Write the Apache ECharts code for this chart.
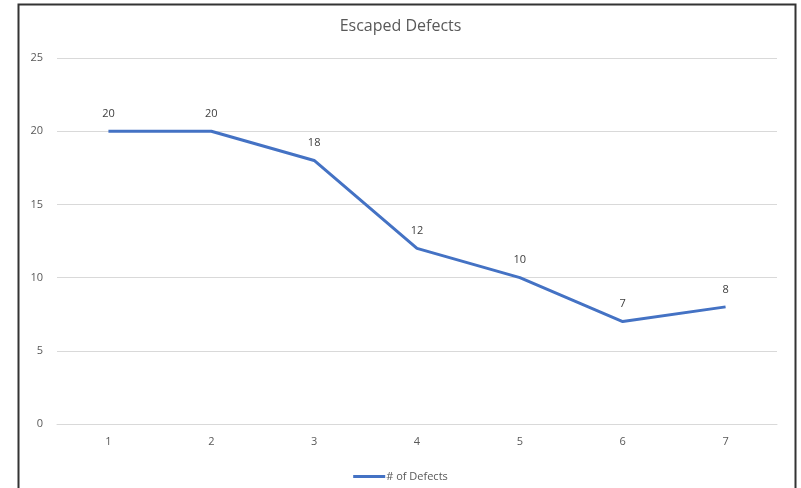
<!DOCTYPE html>
<html><head><meta charset="utf-8">
<script src="https://cdn.jsdelivr.net/npm/echarts@6/dist/echarts.min.js"></script>
<style>html,body{margin:0;padding:0;background:#fff}#c{width:801px;height:488px}</style>
</head><body><div id="c"></div>
<script>
var categories = ['1','2','3','4','5','6','7'];
var defects = [20, 20, 18, 12, 10, 7, 8];
var seriesName = '# of Defects';
var chartTitle = 'Escaped Defects';

var chart = echarts.init(document.getElementById('c'), null, {renderer:'canvas'});
chart.setOption({
  animation:false,
  backgroundColor:'#fff',
  textStyle:{fontFamily:'Open Sans'},
  title:{text:chartTitle,left:'center',top:13,textStyle:{fontSize:16,fontWeight:'normal',color:'#595959',fontFamily:'Open Sans'}},
  legend:{bottom:1,left:'center',itemWidth:32,itemHeight:3,itemGap:0,icon:'rect',
    itemStyle:{color:'#4472c4'},
    textStyle:{fontSize:11,color:'#595959',padding:[0,0,0,-4]},data:[seriesName]},
  grid:{left:57,right:24,top:58,bottom:64,containLabel:false},
  xAxis:{type:'category',data:categories,boundaryGap:true,
    axisLine:{show:true,lineStyle:{color:'#d9d9d9'}},axisTick:{show:false},
    axisLabel:{color:'#595959',fontSize:11,margin:12}},
  yAxis:{type:'value',min:0,max:25,interval:5,
    axisLine:{show:false},axisTick:{show:false},
    splitLine:{lineStyle:{color:'#d9d9d9'}},
    axisLabel:{color:'#595959',fontSize:11,margin:14}},
  series:[{name:seriesName,type:'line',data:defects,symbol:'circle',symbolSize:0,showSymbol:true,
    lineStyle:{color:'#4472c4',width:3},itemStyle:{color:'#4472c4'},
    label:{show:true,position:'top',distance:12,color:'#404040',fontSize:11}}],
  graphic:[{type:'rect',shape:{x:18.5,y:4.5,width:777,height:500},
    style:{fill:'none',stroke:'#333',lineWidth:2},silent:true}]
});
</script></body></html>
